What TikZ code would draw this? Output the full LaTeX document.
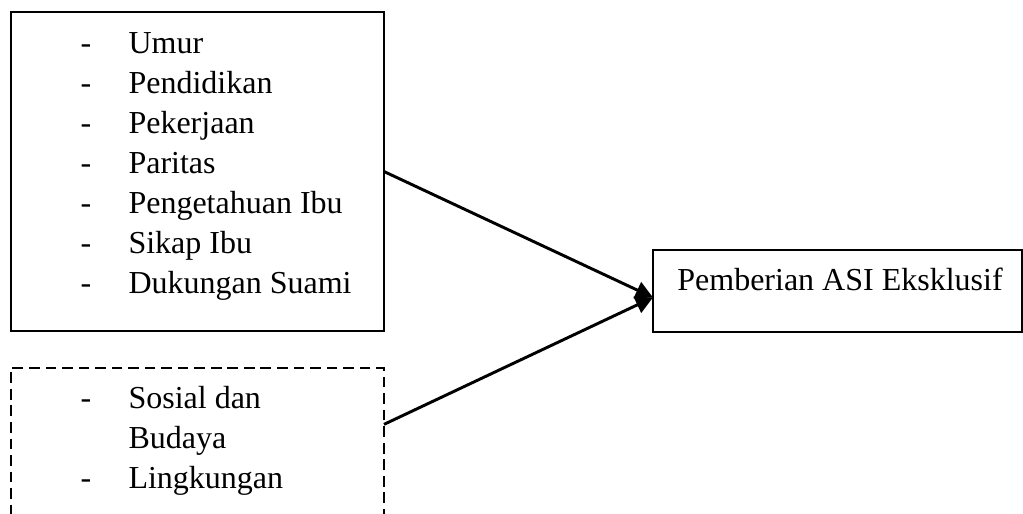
\documentclass[tikz,border=0pt]{standalone}
\usepackage{fontspec}
\setmainfont{Liberation Serif}
\usetikzlibrary{arrows.meta}
\tikzset{
  kotak/.style={draw, line width=0.7pt, inner sep=0pt, outer sep=0pt},
  garis/.style={dash pattern=on 4pt off 2.2pt, line width=0.9pt},
  teks/.style={anchor=base west, inner sep=0pt, font=\fontsize{12}{14}\selectfont},
  panah/.style={line width=1.1pt, -{Triangle[length=6.5pt,width=6.5pt]}}
}
\begin{document}
\begin{tikzpicture}[x=0.375pt,y=-0.375pt]
	\useasboundingbox (0,0) rectangle (1023,513);
	\clip (0,0) rectangle (1023,513);
	% kotak
	\node[kotak, minimum width=373*0.375pt, minimum height=319*0.375pt] (faktor) at (197.5,171.5) {};
	\node[kotak, garis, minimum width=373*0.375pt, minimum height=192*0.375pt] (lain) at (197.5,464) {};
	\node[kotak, minimum width=369*0.375pt, minimum height=82*0.375pt] (hasil) at (837.5,291) {};
	% isi
	\foreach \nama [count=\i] in {Umur, Pendidikan, Pekerjaan, Paritas, Pengetahuan Ibu, Sikap Ibu, Dukungan Suami}{
		\node[teks] (d\i) at (80,13+40*\i) {-};
		\node[teks] (v\i) at (128,13+40*\i) {\nama};
	}
	\node[teks] (e1) at (80,408) {-};
	\node[teks] (w1) at (128,408) {Sosial dan};
	\node[teks] (w2) at (128,448) {Budaya};
	\node[teks] (e2) at (80,488) {-};
	\node[teks] (w3) at (128,488) {Lingkungan};
	\node[teks, anchor=base] (judul) at (840,290) {Pemberian ASI Eksklusif};
	% panah
	\draw[panah] (faktor.east) -- (hasil.182);
	\draw[panah] (lain.12) -- (hasil.182);
\end{tikzpicture}
\end{document}
